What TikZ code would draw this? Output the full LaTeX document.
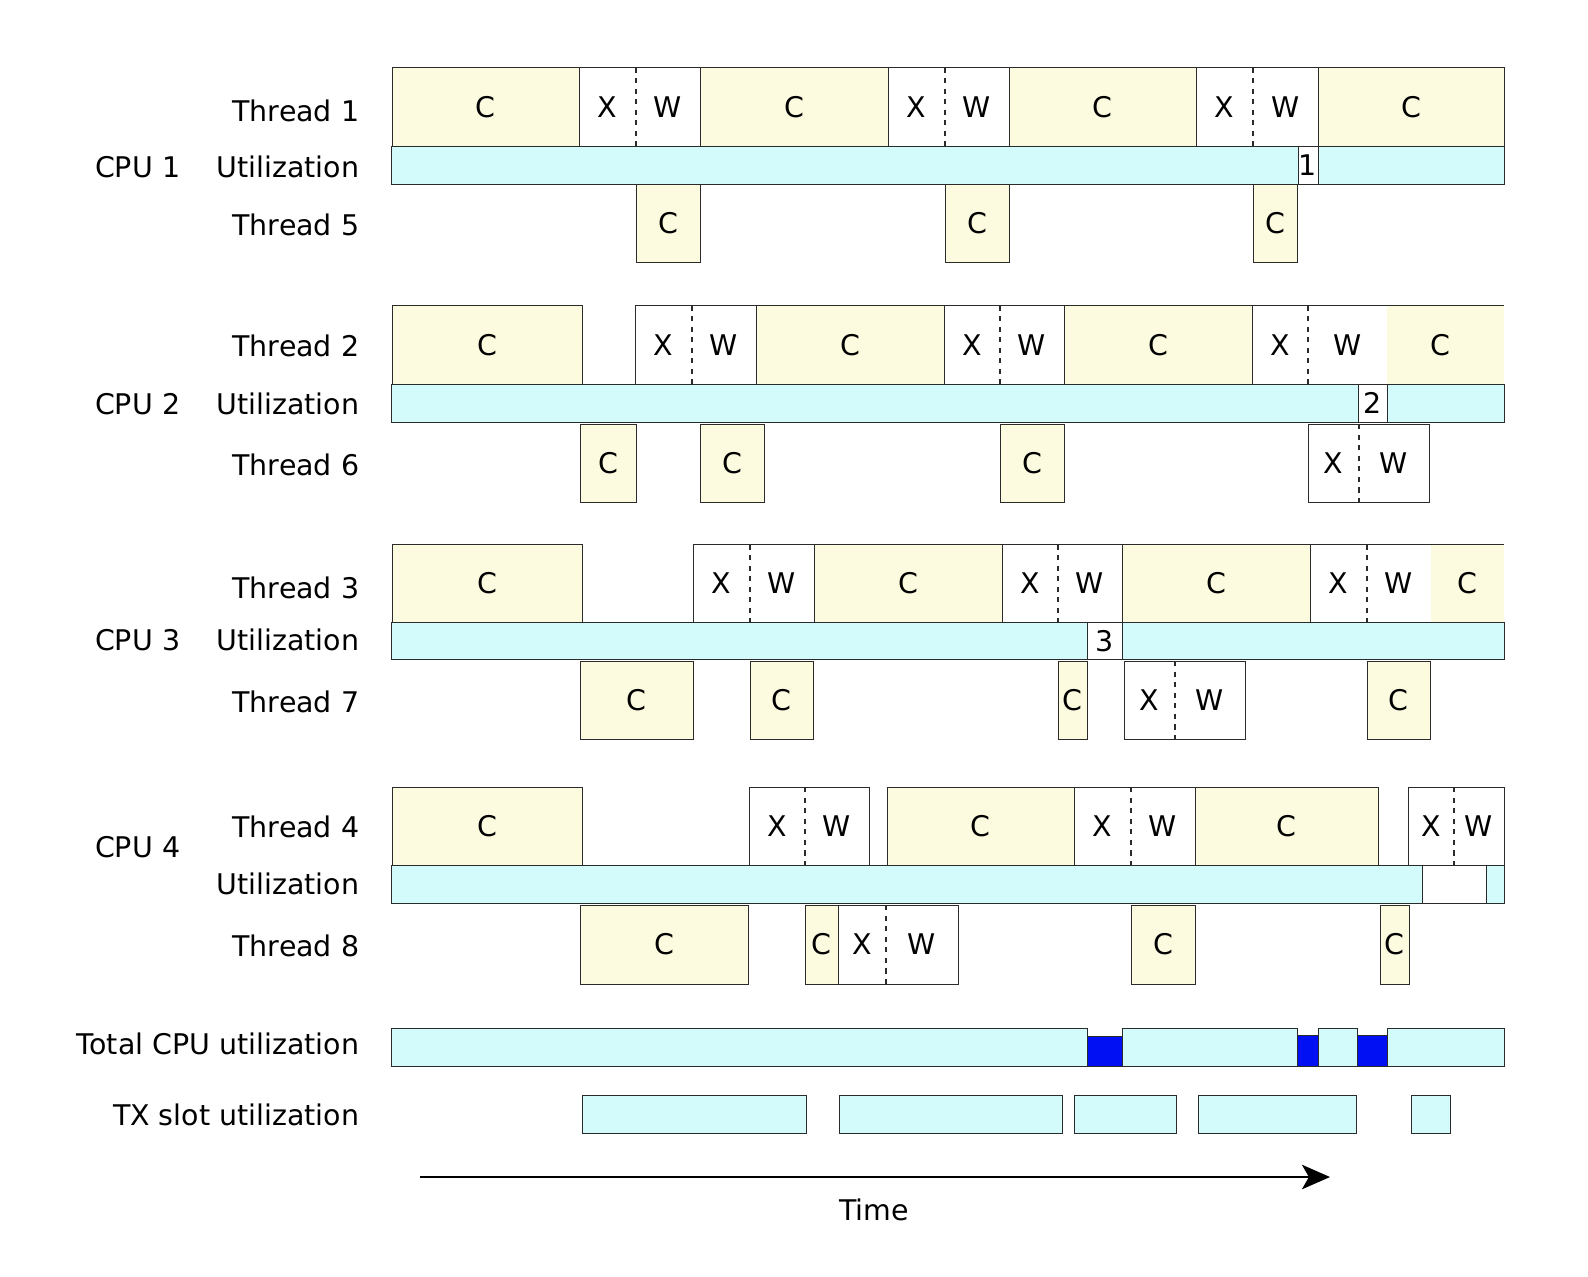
\documentclass[tikz,border=0pt]{standalone}
\usepackage{fontspec}
\setmainfont{DejaVu Sans}
\usetikzlibrary{arrows.meta}
\definecolor{ink}{HTML}{2B2B2B}
\definecolor{compute}{HTML}{FCFADF}
\definecolor{busy}{HTML}{D4FBFB}
\definecolor{stall}{HTML}{0010F2}
\tikzset{>={Stealth[length=16pt,width=14pt,inset=4pt]},line width=.7pt,
  every node/.style={font=\fontsize{16.2}{19}\selectfont,inner sep=0pt},
  cbox/.style={draw=ink,fill=compute},
  xwbox/.style={draw=ink,fill=white},
  ubar/.style={draw=ink,fill=busy},
  idle/.style={draw=ink,fill=white},
  stallbox/.style={draw=ink,fill=stall},
  split/.style={draw=ink,dash pattern=on 3pt off 3pt,line width=.6pt},
  rowlabel/.style={anchor=east}}
% X|W slot: left, dash, right, top, bottom, name
\newcommand{\xwslot}[6]{%
  \draw[xwbox] (#1,#4) rectangle (#3,#5);
  \draw[split] (#2,#4) -- (#2,#5);
  \node (#6x) at ({(#1+#2)/2},{(#4+#5)/2}) {X};
  \node (#6w) at ({(#2+#3)/2},{(#4+#5)/2}) {W};}

\begin{document}
\begin{tikzpicture}[x=0.02cm,y=-0.02cm]
\useasboundingbox (0,0) rectangle (1588,1276);
% CPU 1
\draw[cbox] (392,67.5) rectangle node (t1a) {C} (579,146);
\xwslot{579}{636}{700}{67.5}{146}{t1b}
\draw[cbox] (700,67.5) rectangle node (t1c) {C} (888,146);
\xwslot{888}{945}{1009}{67.5}{146}{t1d}
\draw[cbox] (1009,67.5) rectangle node (t1e) {C} (1196,146);
\xwslot{1196}{1253}{1318}{67.5}{146}{t1f}
\draw[cbox] (1318,67.5) rectangle node (t1g) {C} (1504,146);
\draw[ubar] (391,146) rectangle (1298,184.5);
\draw[idle] (1298,146) rectangle node (u1) {1} (1318,184.5);
\draw[ubar] (1318,146) rectangle (1504,184.5);
\draw[cbox] (636,184.5) rectangle node (t5a) {C} (700,262.5);
\draw[cbox] (945,184.5) rectangle node (t5b) {C} (1009,262.5);
\draw[cbox] (1253,184.5) rectangle node (t5c) {C} (1297,262.5);
\node[rowlabel] (th1) at (359.5,111) {Thread 1};
\node[rowlabel] (ut1) at (359.5,167) {Utilization};
\node[rowlabel] (th5) at (359.5,225) {Thread 5};
\node[rowlabel] (cpu1) at (180.5,167) {CPU 1};
% CPU 2
\draw[cbox] (392,305.5) rectangle node (t2a) {C} (582,384);
\xwslot{635}{692}{756}{305.5}{384}{t2b}
\draw[cbox] (756,305.5) rectangle node (t2c) {C} (944,384);
\xwslot{944}{1000}{1064}{305.5}{384}{t2d}
\draw[cbox] (1064,305.5) rectangle node (t2e) {C} (1252,384);
\xwslot{1252}{1308}{1387}{305.5}{384}{t2f}
\fill[compute] (1387,305.5) rectangle (1504,384);
\draw[ink] (1387,305.5) -- (1504,305.5);
\node (t2g) at (1440,344.75) {C};
\draw[ubar] (391,384) rectangle (1358,422.5);
\draw[idle] (1358,384) rectangle node (u2) {2} (1387,422.5);
\draw[ubar] (1387,384) rectangle (1504,422.5);
\draw[cbox] (580,424) rectangle node (t6a) {C} (636,502);
\draw[cbox] (700,424) rectangle node (t6b) {C} (764,502);
\draw[cbox] (1000,424) rectangle node (t6c) {C} (1064,502);
\xwslot{1308}{1359}{1429}{424}{502}{t6d}
\node[rowlabel] (th2) at (359.5,345.5) {Thread 2};
\node[rowlabel] (ut2) at (359.5,404) {Utilization};
\node[rowlabel] (th6) at (359.5,465) {Thread 6};
\node[rowlabel] (cpu2) at (180.5,404) {CPU 2};
% CPU 3
\draw[cbox] (392,544.5) rectangle node (t3a) {C} (582,622.5);
\xwslot{693}{750}{814}{544.5}{622.5}{t3b}
\draw[cbox] (814,544.5) rectangle node (t3c) {C} (1002,622.5);
\xwslot{1002}{1058}{1122}{544.5}{622.5}{t3d}
\draw[cbox] (1122,544.5) rectangle node (t3e) {C} (1310,622.5);
\xwslot{1310}{1367}{1431}{544.5}{622.5}{t3f}
\fill[compute] (1431,544.5) rectangle (1504,622.5);
\draw[ink] (1431,544.5) -- (1504,544.5);
\node (t3g) at (1467.5,583.5) {C};
\draw[ubar] (391,622.5) rectangle (1087,659);
\draw[idle] (1087,622.5) rectangle node (u3) {3} (1122,659);
\draw[ubar] (1122,622.5) rectangle (1504,659);
\draw[cbox] (580,661) rectangle node (t7a) {C} (693,739);
\draw[cbox] (750,661) rectangle node (t7b) {C} (813,739);
\draw[cbox] (1058,661) rectangle node (t7c) {C} (1087,739);
\xwslot{1124}{1175}{1245}{661}{739}{t7d}
\draw[cbox] (1367,661) rectangle node (t7e) {C} (1430,739);
\node[rowlabel] (th3) at (359.5,587.5) {Thread 3};
\node[rowlabel] (ut3) at (359.5,640) {Utilization};
\node[rowlabel] (th7) at (359.5,702) {Thread 7};
\node[rowlabel] (cpu3) at (180.5,640) {CPU 3};
% CPU 4
\draw[cbox] (392,787) rectangle node (t4a) {C} (582,865);
\xwslot{749}{805}{869}{787}{865}{t4b}
\draw[cbox] (887,787) rectangle node (t4c) {C} (1074,865);
\xwslot{1074}{1131}{1195}{787}{865}{t4d}
\draw[cbox] (1195,787) rectangle node (t4e) {C} (1378,865);
\xwslot{1408}{1454}{1504}{787}{865}{t4f}
\draw[ubar] (391,865) rectangle (1422,903);
\draw[idle] (1422,865) rectangle (1486,903);
\draw[ubar] (1486,865) rectangle (1504,903);
\draw[cbox] (580,905) rectangle node (t8a) {C} (748,984);
\draw[cbox] (805,905) rectangle node (t8b) {C} (838,984);
\xwslot{838}{886}{958}{905}{984}{t8c}
\draw[cbox] (1131,905) rectangle node (t8d) {C} (1195,984);
\draw[cbox] (1380,905) rectangle node (t8e) {C} (1409,984);
\node[rowlabel] (th4) at (359.5,826.5) {Thread 4};
\node[rowlabel] (ut4) at (359.5,884) {Utilization};
\node[rowlabel] (th8) at (359.5,946) {Thread 8};
\node[rowlabel] (cpu4) at (180.5,847) {CPU 4};
% totals
\draw[ubar] (391,1028.5) rectangle (1087,1066);
\draw[stallbox] (1087,1036) rectangle (1122,1066);
\draw[ubar] (1122,1028.5) rectangle (1297,1066);
\draw[stallbox] (1297,1035) rectangle (1318,1066);
\draw[ubar] (1318,1028.5) rectangle (1357,1066);
\draw[stallbox] (1357,1035) rectangle (1387,1066);
\draw[ubar] (1387,1028.5) rectangle (1504,1066);
\node[rowlabel] (tot) at (359.5,1044) {Total CPU utilization};
\draw[ubar] (582,1095) rectangle (806,1133);
\draw[ubar] (839,1095) rectangle (1062,1133);
\draw[ubar] (1074,1095) rectangle (1176,1133);
\draw[ubar] (1198,1095) rectangle (1356,1133);
\draw[ubar] (1411,1095) rectangle (1450,1133);
\node[rowlabel] (tx) at (359.5,1115) {TX slot utilization};
% time axis
\coordinate (ts) at (420,1177);
\coordinate (te) at (1330,1177);
\draw[->,black,line width=.8pt] (ts) -- (te);
\node (time) at (874,1210) {Time};
\end{tikzpicture}
\end{document}
